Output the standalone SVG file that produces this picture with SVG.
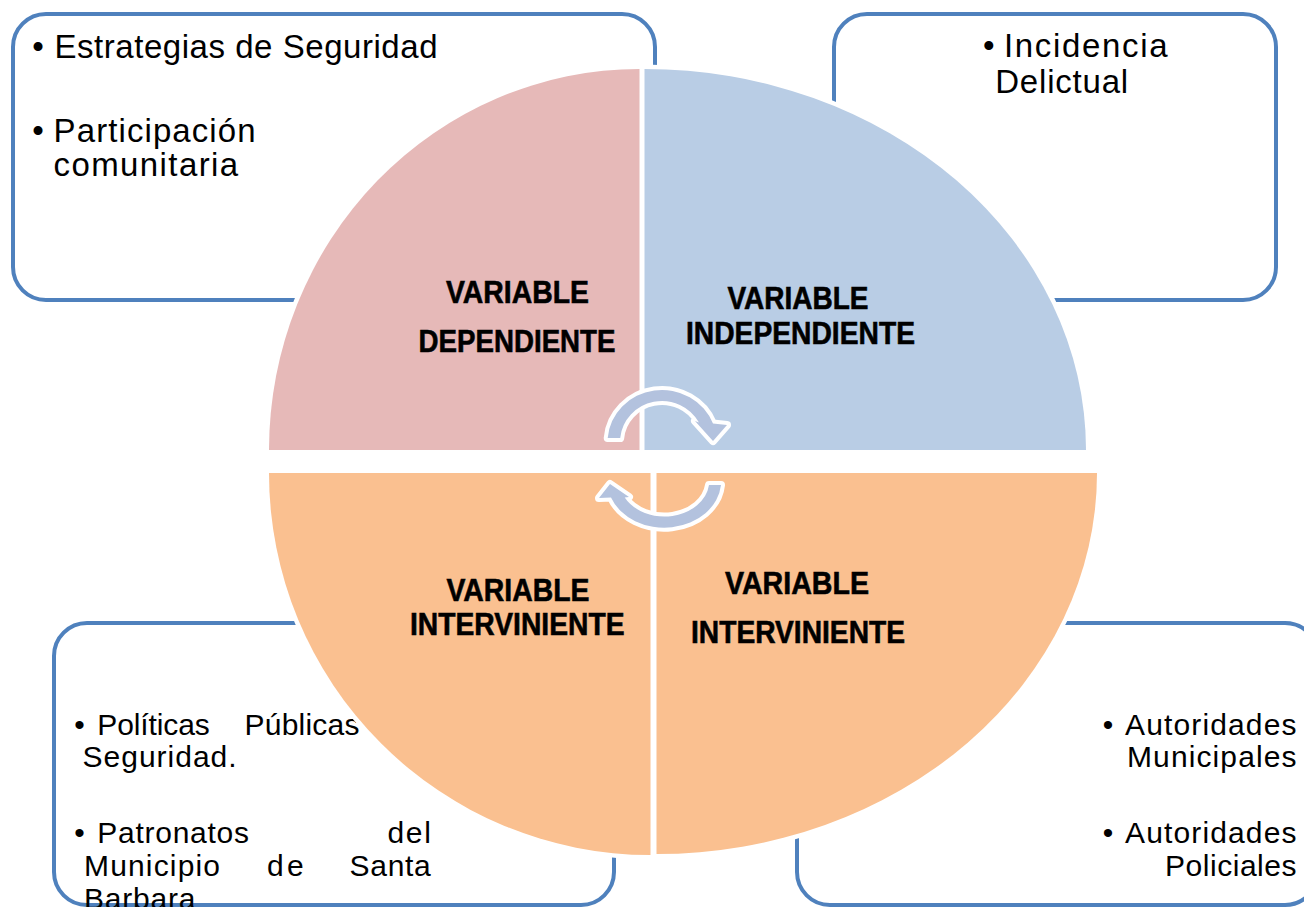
<svg xmlns="http://www.w3.org/2000/svg" width="1304" height="907" viewBox="0 0 1304 907">
<style>
.box{fill:#ffffff;stroke:#4f81bd;stroke-width:4}
.pie{stroke:#ffffff;stroke-width:9;paint-order:stroke;stroke-linejoin:miter}
.tl{fill:#e6b9b8}.tr{fill:#b9cde5}.bo{fill:#fac090}
.arrow{fill:#b3c2de;stroke:#ffffff;stroke-width:8;paint-order:stroke;stroke-linejoin:round}
.t1{font-family:"Liberation Sans",Arial,sans-serif;font-size:33px;fill:#000}
.t2{font-family:"Liberation Sans",Arial,sans-serif;font-size:30px;fill:#000}
.lab{font-family:"Liberation Sans",Arial,sans-serif;font-size:32px;font-weight:bold;fill:#000;stroke:#000;stroke-width:0.6}
</style>
<rect width="1304" height="907" fill="#ffffff"/>

<g id="node-dependiente">
<rect class="box" x="13" y="14" width="642" height="286" rx="33" ry="33"/>
<text class="t1" x="38" y="58.3" text-anchor="middle">•</text>
<text class="t1" x="54.5" y="58.3" textLength="383">Estrategias de Seguridad</text>
<text class="t1" x="38" y="141.7" text-anchor="middle">•</text>
<text class="t1" x="53.6" y="141.7" textLength="202">Participación</text>
<text class="t1" x="53.6" y="176" textLength="184.5">comunitaria</text>
<path class="pie tl" d="M639.5,450 L269,450 A370.5,381 0 0 1 639.5,69 Z"/>
<text class="lab" x="446" y="302.7" textLength="143" lengthAdjust="spacingAndGlyphs">VARIABLE</text>
<text class="lab" x="418.5" y="351.7" textLength="197" lengthAdjust="spacingAndGlyphs">DEPENDIENTE</text>
</g>

<g id="node-independiente">
<rect class="box" x="834" y="14" width="442" height="286" rx="33" ry="33"/>
<text class="t1" x="988.7" y="57.3" text-anchor="middle">•</text>
<text class="t1" x="1004" y="57.3" textLength="163.6">Incidencia</text>
<text class="t1" x="995.2" y="92.7" textLength="133">Delictual</text>
<path class="pie tr" d="M644.5,450 L644.5,69 A441.5,381 0 0 1 1086,450 Z"/>
<text class="lab" x="727.5" y="309.3" textLength="141" lengthAdjust="spacingAndGlyphs">VARIABLE</text>
<text class="lab" x="686" y="344" textLength="229" lengthAdjust="spacingAndGlyphs">INDEPENDIENTE</text>
</g>

<g id="node-interviniente-1">
<rect class="box" x="54" y="623" width="560" height="282" rx="33" ry="33"/>
<text class="t2" x="79.5" y="735" text-anchor="middle">•</text>
<text class="t2" x="97.3" y="735" textLength="112.5">Políticas</text>
<text class="t2" x="244.6" y="735" textLength="114.8">Públicas</text>
<text class="t2" x="82.6" y="766.7" textLength="154">Seguridad.</text>
<text class="t2" x="79.5" y="843.3" text-anchor="middle">•</text>
<text class="t2" x="97.3" y="843.3" textLength="151.7">Patronatos</text>
<text class="t2" x="387.5" y="843.3" textLength="43.3">del</text>
<text class="t2" x="84" y="876" textLength="136">Municipio</text>
<text class="t2" x="267" y="876" textLength="36.6">de</text>
<text class="t2" x="349.6" y="876" textLength="81.2">Santa</text>
<text class="t2" x="84" y="909" textLength="111.5">Barbara</text>
<path class="pie bo" d="M650.5,473 L650.5,855 A381.5,382 0 0 1 269,473 Z"/>
<text class="lab" x="446.5" y="600.7" textLength="143" lengthAdjust="spacingAndGlyphs">VARIABLE</text>
<text class="lab" x="410" y="635" textLength="214.5" lengthAdjust="spacingAndGlyphs">INTERVINIENTE</text>
</g>

<g id="node-interviniente-2">
<rect class="box" x="797" y="623" width="521" height="282" rx="33" ry="33"/>
<text class="t2" x="1108" y="735" text-anchor="middle">•</text>
<text class="t2" x="1125" y="735" textLength="171.5">Autoridades</text>
<text class="t2" x="1127" y="766.7" textLength="169.5">Municipales</text>
<text class="t2" x="1108" y="843.3" text-anchor="middle">•</text>
<text class="t2" x="1125" y="843.3" textLength="171.5">Autoridades</text>
<text class="t2" x="1165" y="876" textLength="131.5">Policiales</text>
<path class="pie bo" d="M656.5,473 L1097,473 A440.5,381 0 0 1 656.5,854 Z"/>
<text class="lab" x="725" y="594" textLength="144" lengthAdjust="spacingAndGlyphs">VARIABLE</text>
<text class="lab" x="691" y="643.3" textLength="214" lengthAdjust="spacingAndGlyphs">INTERVINIENTE</text>
</g>

<g id="connectors">
<path class="arrow" d="M607.7,438 A54.5,52 0 0 1 713,423.5 L727,425 L713,441 L695,421 L699,422.6 A42,41 0 0 0 620.2,438 Z"/>
<path class="arrow" d="M721,485 A57,47 0 0 1 611,497.5 L599,498 L610,484 L629,497 L624.7,497.5 A45,36 0 0 0 709,485 Z"/>
</g>
</svg>
